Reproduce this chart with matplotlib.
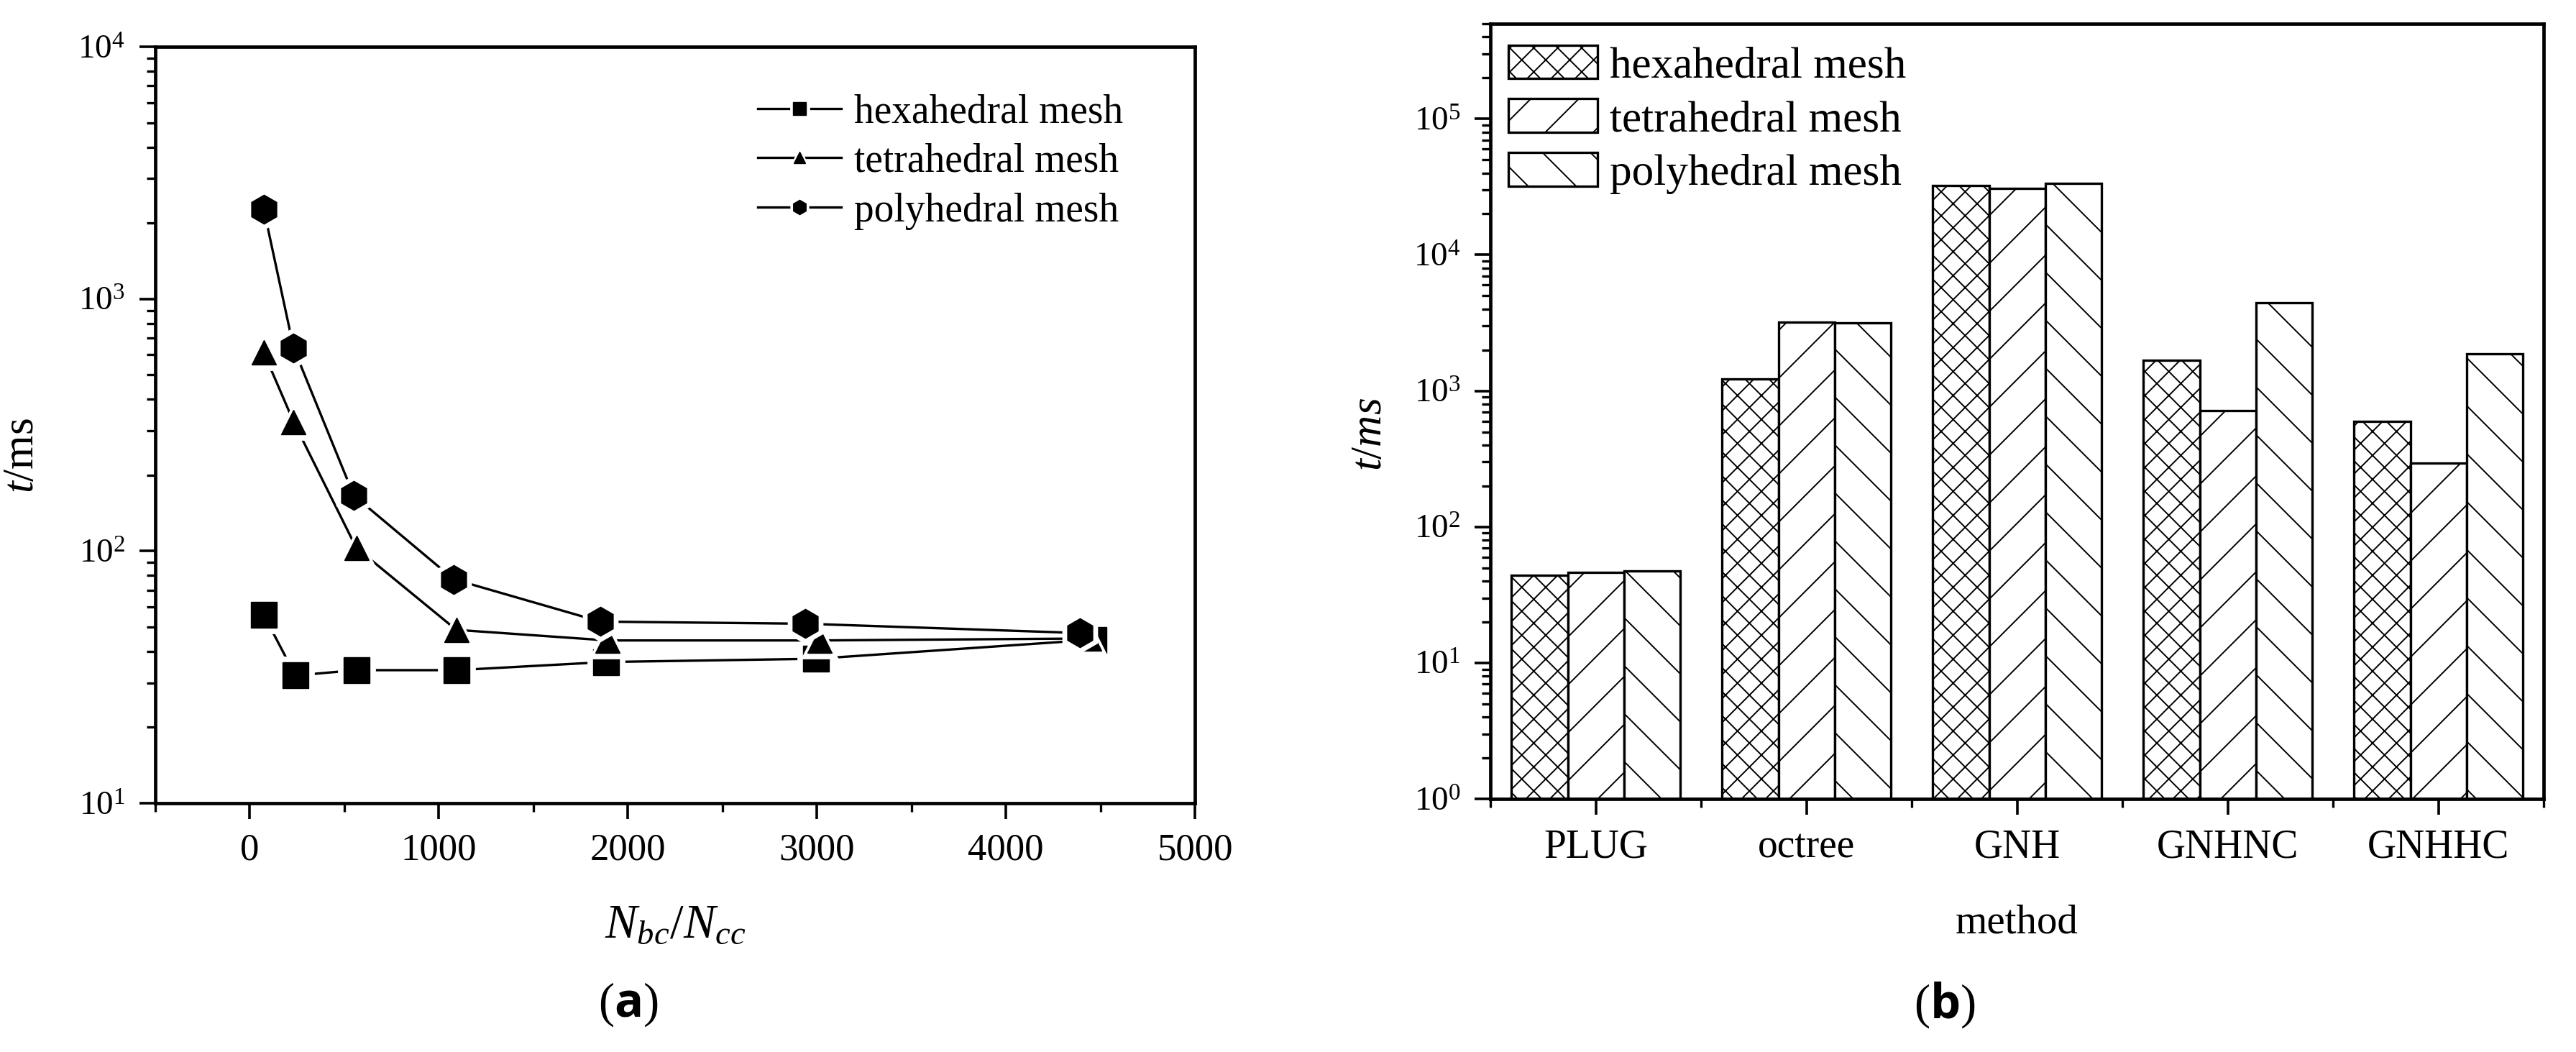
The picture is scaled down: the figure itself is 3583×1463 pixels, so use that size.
import numpy as np
import matplotlib
matplotlib.use('Agg')
from matplotlib import pyplot as plt
from matplotlib.ticker import MultipleLocator, FixedLocator
from matplotlib.legend_handler import HandlerTuple

plt.rcParams['font.family'] = ['Liberation Serif', 'DejaVu Serif']
plt.rcParams['mathtext.fontset'] = 'custom'
plt.rcParams['mathtext.rm'] = 'Liberation Serif'
plt.rcParams['mathtext.it'] = 'Liberation Serif:italic'
plt.rcParams['mathtext.bf'] = 'Open Sans:bold'
plt.rcParams['hatch.linewidth'] = 0.7

# (a) 计算时间随 Nbc/Ncc 的变化
hexa_x = [75, 242, 564, 1093, 1885, 2996, 4463]
hexa_t = [55.8, 32.1, 33.7, 33.7, 36.3, 37.4, 44.5]
tetra_x = [75, 233, 564, 1093, 1894, 3013, 4441]
tetra_t = [612, 325, 103, 48.7, 44.2, 44.2, 45.0]
poly_x = [75, 233, 551, 1079, 1855, 2938, 4392]
poly_t = [2265, 638, 166, 77.3, 52.5, 51.5, 47.3]

# (b) 不同方法的计算时间
methods = ['PLUG', 'octree', 'GNH', 'GNHNC', 'GNHHC']
hexa_bar = [44, 1216, 32470, 1671, 594]
tetra_bar = [46, 3194, 30690, 713, 294]
poly_bar = [47.7, 3160, 33600, 4443, 1872]

labels = ['hexahedral mesh', 'tetrahedral mesh', 'polyhedral mesh']

fig = plt.figure(figsize=(17.915, 7.315), dpi=200)
ax1 = fig.add_axes([0.0602, 0.2365, 0.4037, 0.7191])
ax2 = fig.add_axes([0.5786, 0.2406, 0.4089, 0.7368])


def style_axes(ax):
    for s in ax.spines.values():
        s.set_linewidth(1.7)
    ax.tick_params(which='major', direction='out', length=8, width=1.3,
                   top=False, right=False, pad=7)
    ax.tick_params(which='minor', direction='out', length=4.3, width=1.2,
                   top=False, right=False)


# ---- 左图 ----
handles = []
series = [(hexa_x, hexa_t, 's', 13), (tetra_x, tetra_t, '^', 12),
          (poly_x, poly_t, 'h', 14.5)]
for x, y, m, ms in series:
    l, = ax1.plot(x, y, '-', color='black', lw=1.2)
    h, = ax1.plot(x, y, m, ls='none', ms=ms + 5, color='white', mec='white')
    k, = ax1.plot(x, y, m, ls='none', ms=ms, color='black', mec='black', mew=0.5)
    handles.append((l, h, k))

ax1.set_yscale('log')
ax1.set_xlim(-500, 5000)
ax1.set_ylim(10, 1e4)
ax1.xaxis.set_major_locator(MultipleLocator(1000))
ax1.xaxis.set_minor_locator(MultipleLocator(500))
style_axes(ax1)
ax1.tick_params(axis='x', labelsize=19)
ax1.tick_params(axis='y', labelsize=17)
ax1.set_xlabel(r'$N_{bc}/N_{cc}$', fontsize=24, labelpad=18)
ax1.set_ylabel(r'$t$/ms', fontsize=22)
ax1.yaxis.set_label_coords(-0.108, 0.46)

ax1.legend(handles, labels, handler_map={tuple: HandlerTuple(ndivide=1)},
           loc='upper left', bbox_to_anchor=(0.2863, 0.930),
           bbox_transform=fig.transFigure, frameon=False, fontsize=20,
           borderpad=0, handlelength=2.1, handletextpad=0.32,
           labelspacing=0.30, markerscale=0.5)

# ---- 右图 ----
pos = np.arange(len(methods))
w = 0.267
hatches = ['xx', '/', '\\']
bar_data = [hexa_bar, tetra_bar, poly_bar]
for i, (vals, hat, lab) in enumerate(zip(bar_data, hatches, labels)):
    ax2.bar(pos + (i - 1) * w, vals, width=w, color='white', edgecolor='black',
            hatch=hat, linewidth=1.2, label=lab)

ax2.set_yscale('log')
ax2.set_ylim(1, 5e5)
ax2.set_xlim(-0.5, 4.5)
ax2.xaxis.set_major_locator(FixedLocator(pos))
ax2.xaxis.set_minor_locator(FixedLocator(np.arange(-0.5, 4.6, 1)))
ax2.set_xticklabels(methods)
style_axes(ax2)
ax2.tick_params(axis='x', labelsize=20)
ax2.tick_params(axis='y', labelsize=17)
ax2.set_xlabel('method', fontsize=20.5, labelpad=19)
ax2.set_ylabel(r'$t/ms$', fontsize=22)
ax2.yaxis.set_label_coords(-0.095, 0.47)

ax2.legend(loc='upper left', bbox_to_anchor=(0.5771, 0.978),
           bbox_transform=fig.transFigure, frameon=False, fontsize=22,
           borderpad=0, handlelength=2.03, handleheight=0.8,
           handletextpad=0.27, labelspacing=0.28)

fig.text(0.244, 0.045, r'($\mathbf{a}$)', fontsize=24, ha='center', va='center')
fig.text(0.755, 0.045, r'($\mathbf{b}$)', fontsize=24, ha='center', va='center')

fig.savefig('out.png', dpi=200)
